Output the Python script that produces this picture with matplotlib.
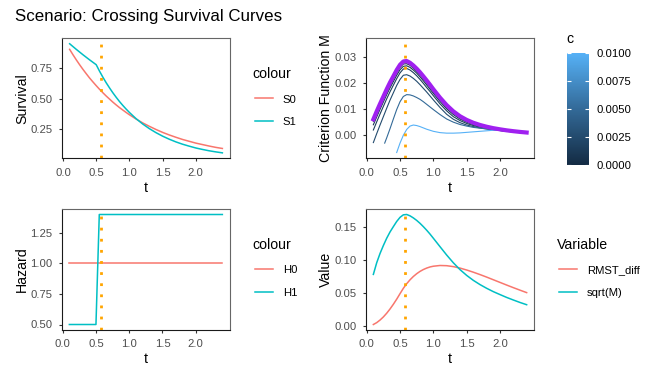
import numpy as np
import matplotlib
matplotlib.use('Agg')
import matplotlib.pyplot as plt
from matplotlib.colors import LinearSegmentedColormap, Normalize
from matplotlib.lines import Line2D
import matplotlib.colorbar as mcolorbar

plt.rcParams['font.family'] = ['Liberation Sans', 'DejaVu Sans']

W, H = 664, 380

# time grid
t = [0.10, 0.15, 0.20, 0.25, 0.30, 0.35, 0.40, 0.45, 0.50, 0.55, 0.60, 0.65,
     0.70, 0.75, 0.80, 0.85, 0.90, 0.95, 1.00, 1.10, 1.20, 1.30, 1.40, 1.50,
     1.60, 1.70, 1.80, 1.90, 2.00, 2.10, 2.20, 2.30, 2.40]

# survival curves
S0 = [0.905, 0.861, 0.819, 0.779, 0.741, 0.705, 0.670, 0.638, 0.607, 0.577, 0.549, 0.522,
      0.497, 0.472, 0.449, 0.427, 0.407, 0.387, 0.368, 0.333, 0.301, 0.273, 0.247, 0.223,
      0.202, 0.183, 0.165, 0.150, 0.135, 0.123, 0.111, 0.100, 0.091]
S1 = [0.951, 0.928, 0.905, 0.883, 0.861, 0.840, 0.819, 0.799, 0.779, 0.726, 0.677, 0.631,
      0.589, 0.549, 0.512, 0.477, 0.445, 0.415, 0.387, 0.336, 0.292, 0.254, 0.221, 0.192,
      0.167, 0.145, 0.126, 0.110, 0.095, 0.083, 0.072, 0.063, 0.055]

# hazards
H0 = [1.0] * 33
H1 = [0.5] * 9 + [1.4] * 24

# criterion function M (c = 0) and RMST difference
M = [0.00608, 0.00912, 0.01199, 0.01476, 0.01756, 0.02016, 0.02250, 0.02490, 0.02690,
     0.02816, 0.02833, 0.02766, 0.02663, 0.02541, 0.02403, 0.02250, 0.02091, 0.01927,
     0.01756, 0.01435, 0.01149, 0.00912, 0.00726, 0.00585, 0.00476, 0.00392, 0.00325,
     0.00270, 0.00226, 0.00187, 0.00155, 0.00127, 0.00104]
RMST_diff = [0.0024, 0.0052, 0.0091, 0.0138, 0.0194, 0.0258, 0.0329, 0.0406, 0.0489,
             0.0570, 0.0639, 0.0698, 0.0748, 0.0790, 0.0825, 0.0853, 0.0875, 0.0892,
             0.0903, 0.0914, 0.0911, 0.0897, 0.0875, 0.0846, 0.0813, 0.0777, 0.0739,
             0.0699, 0.0659, 0.0619, 0.0580, 0.0542, 0.0505]

# criterion function for c > 0
c_vals = [0.0005, 0.001, 0.0015, 0.0025, 0.005, 0.01]
M_a = [0.0053, 0.0083, 0.0111, 0.0139, 0.0167, 0.0192, 0.0215, 0.0239, 0.0259, 0.0272,
       0.0273, 0.0267, 0.0256, 0.0244, 0.0230, 0.0215, 0.0200, 0.0184, 0.0167, 0.0136,
       0.0108, 0.0085, 0.0068, 0.0054, 0.0044, 0.0036, 0.0030, 0.0025, 0.0021, 0.0017,
       0.0014, 0.0012, 0.0010]
M_b = [0.0040, 0.0070, 0.0099, 0.0127, 0.0155, 0.0181, 0.0205, 0.0229, 0.0250, 0.0263,
       0.0265, 0.0259, 0.0249, 0.0237, 0.0223, 0.0208, 0.0192, 0.0176, 0.0160, 0.0129,
       0.0101, 0.0079, 0.0062, 0.0050, 0.0040, 0.0033, 0.0028, 0.0023, 0.0020, 0.0016,
       0.0014, 0.0011, 0.0009]
M_c = [0.0020, 0.0051, 0.0081, 0.0110, 0.0139, 0.0166, 0.0191, 0.0216, 0.0238, 0.0253,
       0.0255, 0.0249, 0.0239, 0.0227, 0.0213, 0.0198, 0.0182, 0.0167, 0.0151, 0.0120,
       0.0093, 0.0071, 0.0056, 0.0045, 0.0037, 0.0031, 0.0026, 0.0022, 0.0018, 0.0015,
       0.0013, 0.0011, 0.0009]
M_d = [-0.0028, 0.0006, 0.0039, 0.0071, 0.0103, 0.0134, 0.0162, 0.0190, 0.0213, 0.0229,
       0.0231, 0.0226, 0.0217, 0.0206, 0.0193, 0.0179, 0.0165, 0.0150, 0.0135, 0.0106,
       0.0080, 0.0061, 0.0048, 0.0039, 0.0033, 0.0028, 0.0024, 0.0021, 0.0018, 0.0015,
       0.0013, 0.0011, 0.0009]
t_e = [0.27, 0.30, 0.35, 0.40, 0.45, 0.50, 0.55, 0.60, 0.65, 0.70, 0.75, 0.80, 0.85, 0.90,
       0.95, 1.00, 1.10, 1.20, 1.30, 1.40, 1.50, 1.60, 1.70, 1.80, 1.90, 2.00, 2.10, 2.20,
       2.30, 2.40]
M_e = [-0.0030, -0.0010, 0.0025, 0.0062, 0.0098, 0.0128, 0.0148, 0.0155, 0.0154, 0.0150,
       0.0144, 0.0137, 0.0128, 0.0118, 0.0108, 0.0098, 0.0079, 0.0062, 0.0050, 0.0041,
       0.0035, 0.0030, 0.0027, 0.0024, 0.0021, 0.0019, 0.0016, 0.0014, 0.0012, 0.0010]
t_f = [0.45, 0.50, 0.55, 0.60, 0.65, 0.70, 0.75, 0.80, 0.85, 0.90, 0.95, 1.00, 1.10, 1.20,
       1.30, 1.40, 1.50, 1.60, 1.70, 1.80, 1.90, 2.00, 2.10, 2.20, 2.30, 2.40]
M_f = [-0.0066, -0.0030, 0.0000, 0.0022, 0.0035, 0.0039, 0.0037, 0.0033, 0.0028, 0.0023,
       0.0019, 0.0015, 0.0010, 0.0008, 0.0008, 0.0009, 0.0011, 0.0013, 0.0015, 0.0017,
       0.0019, 0.0020, 0.0018, 0.0015, 0.0012, 0.0010]
thin_t = [t, t, t, t, t_e, t_f]
thin_M = [M_a, M_b, M_c, M_d, M_e, M_f]

t_star = 0.575  # argmax of M

RED = '#F8766D'
CYAN = '#00BFC4'
ORANGE = '#FFA500'
PURPLE = '#A020F0'
cmap = LinearSegmentedColormap.from_list('gg', ['#132B43', '#336A98', '#56B1F7'])
norm = Normalize(0, 0.01)

fig = plt.figure(figsize=(W / 100, H / 100), dpi=100)


def box(x0, y0, x1, y1):
    return [x0 / W, 1 - y1 / H, (x1 - x0) / W, (y1 - y0) / H]


def style(ax, ylabel, yticks, ylabels, wpx, hpx):
    for s in ['left', 'bottom']:
        ax.spines[s].set_color('#1a1a1a')
    for s in ['top', 'right']:
        ax.spines[s].set_color('#666666')
    for s in ax.spines.values():
        s.set_linewidth(0.8)
    ax.tick_params(direction='out', length=2.4, width=0.8, color='#333333',
                   labelsize=8.1, labelcolor='#4D4D4D')
    ax.tick_params(axis='x', pad=4.3)
    ax.tick_params(axis='y', pad=4.2)
    ax.set_xlim(-0.015, 2.515)
    ax.set_xticks([0, 0.5, 1.0, 1.5, 2.0], ['0.0', '0.5', '1.0', '1.5', '2.0'])
    ax.set_yticks(yticks, ylabels)
    ax.set_xlabel('t', fontsize=10.2, va='baseline')
    ax.xaxis.set_label_coords(0.5, -33.3 / hpx)
    ax.set_ylabel(ylabel, fontsize=10.2, va='baseline')
    ax.yaxis.set_label_coords(-36 / wpx, 0.5)
    ax.axvline(t_star, color=ORANGE, lw=2, ls=(0, (1, 3)), dash_capstyle='butt')


def legend(title, tx, tbase, labels, colors, kx0, kx1, kys, lx, lbases):
    fig.text(tx / W, 1 - tbase / H, title, fontsize=10.2, va='baseline')
    for lab, col, ky, lb in zip(labels, colors, kys, lbases):
        fig.add_artist(Line2D([kx0 / W, kx1 / W], [1 - ky / H] * 2, color=col, lw=1.1,
                              transform=fig.transFigure))
        fig.text(lx / W, 1 - lb / H, lab, fontsize=8.1, va='baseline')


fig.text(15 / W, 1 - 20.7 / H, 'Scenario: Crossing Survival Curves', fontsize=12.2,
         va='baseline')

# survival
ax1 = fig.add_axes(box(62, 38.3, 230, 158.3))
ax1.plot(t, S0, color=RED, lw=1.1)
ax1.plot(t, S1, color=CYAN, lw=1.1)
ax1.margins(y=0.05)
style(ax1, 'Survival', [0.25, 0.5, 0.75], ['0.25', '0.50', '0.75'], 168, 120)
legend('colour', 252, 78.3, ['S0', 'S1'], [RED, CYAN], 255, 273, [98, 121], 282.7,
       [102.7, 125.3])

# criterion function
ax2 = fig.add_axes(box(365.7, 38.3, 534.3, 158.3))
for tt, mm, c in zip(thin_t, thin_M, c_vals):
    ax2.plot(tt, mm, color=cmap(norm(c)), lw=0.8)
ax2.plot(t, M, color=PURPLE, lw=3)
ax2.set_ylim(-0.0088, 0.037)
style(ax2, 'Criterion Function M', [0, 0.01, 0.02, 0.03], ['0.00', '0.01', '0.02', '0.03'],
      168.6, 120)

cax = fig.add_axes(box(566.7, 52.7, 589.3, 165))
cb = mcolorbar.ColorbarBase(cax, cmap=cmap, norm=norm, orientation='vertical')
cb.outline.set_visible(False)
cticks = [0, 0.0025, 0.005, 0.0075, 0.01]
cax.yaxis.set_ticks_position('right')
cax.set_yticks(cticks, ['%.4f' % v for v in cticks])
cax.tick_params(length=0, pad=5.3, labelsize=8.1, labelcolor='black')
tr = cax.get_yaxis_transform()
cax.hlines(cticks, 0, 0.2, color='white', lw=0.8, transform=tr)
cax.hlines(cticks, 0.8, 1, color='white', lw=0.8, transform=tr)
fig.text(566.7 / W, 1 - 43.3 / H, 'c', fontsize=10.2, va='baseline')

# hazard
ax3 = fig.add_axes(box(61.7, 209, 230, 330))
ax3.plot(t, H0, color=RED, lw=1.1)
ax3.plot(t, H1, color=CYAN, lw=1.1)
ax3.margins(y=0.05)
style(ax3, 'Hazard', [0.5, 0.75, 1.0, 1.25], ['0.50', '0.75', '1.00', '1.25'], 168.3, 121)
legend('colour', 252.3, 249, ['H0', 'H1'], [RED, CYAN], 255, 273, [269, 291.7], 282.7,
       [273.3, 296])

# RMST difference vs sqrt(M)
ax4 = fig.add_axes(box(365.7, 209, 534.3, 330))
ax4.plot(t, RMST_diff, color=RED, lw=1.1)
ax4.plot(t, np.sqrt(M), color=CYAN, lw=1.1)
ax4.margins(y=0.05)
style(ax4, 'Value', [0, 0.05, 0.10, 0.15], ['0.00', '0.05', '0.10', '0.15'], 168.6, 121)
legend('Variable', 557.3, 249, ['RMST_diff', 'sqrt(M)'], [RED, CYAN], 559.3, 576.7,
       [269, 292.3], 586.7, [272.7, 296])

fig.savefig('out.png', dpi=100)
